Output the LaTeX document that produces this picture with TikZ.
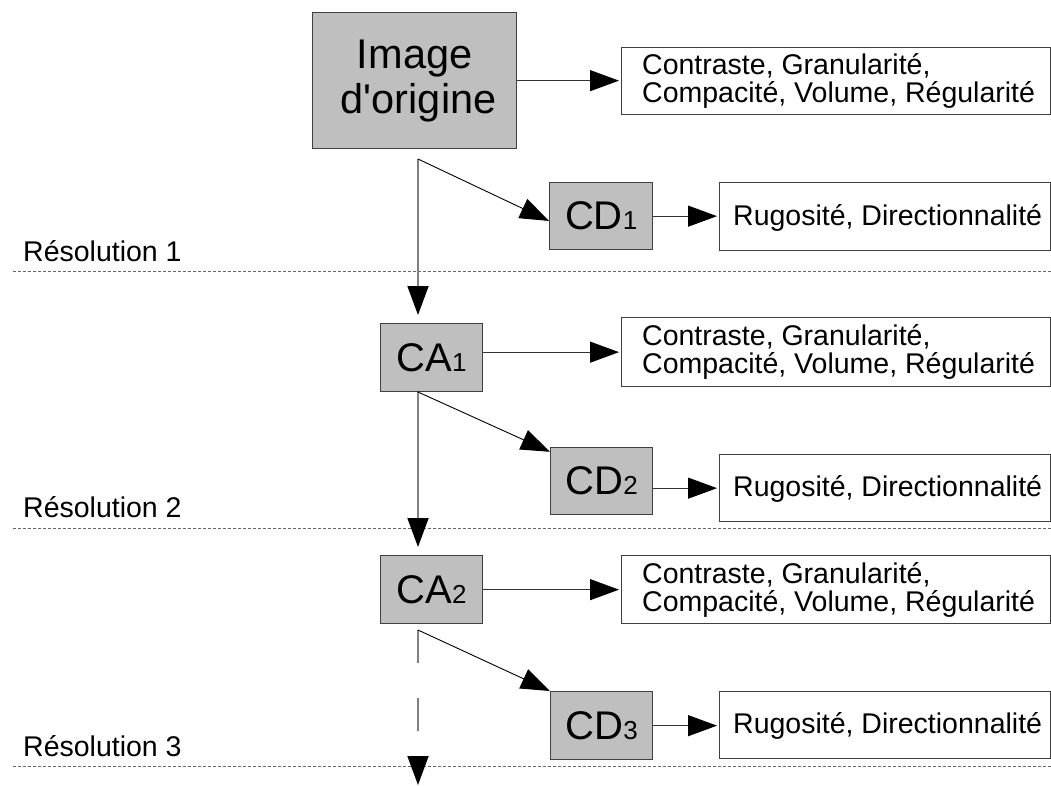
\documentclass[tikz,border=0pt]{standalone}
\usepackage{fontspec}
\setmainfont{Liberation Sans}[Ligatures=TeXOff]
\usetikzlibrary{arrows.meta,calc}
\begin{document}
\begin{tikzpicture}[x=1pt,y=-1pt,
  gbox/.style={draw=black!75, line width=1.3pt, fill=black!25, inner sep=0pt, anchor=north west},
  wbox/.style={draw=black!75, line width=1.3pt, fill=white, inner sep=0pt, anchor=north west},
  big/.style={font=\fontsize{40}{45}\selectfont},
  lbl/.style={font=\fontsize{28.5}{28}\selectfont, inner sep=0pt},
  tipstyle/.style={-{Triangle[length=29pt,width=21pt,color=black]}},
  harrow/.style={tipstyle, draw=black!80, line width=1.2pt, shorten >=2pt},
  vline/.style={tipstyle, draw=black!50, line width=1.8pt},
  dline/.style={tipstyle, draw=black, line width=0.9pt},
  sep/.style={draw=black!60, line width=1pt, dash pattern=on 3pt off 2pt},
]
\useasboundingbox (0,0) rectangle (1051,785);

% separators
\draw[sep] (13,271) -- (1051,271);
\draw[sep] (13,528) -- (1051,528);
\draw[sep] (13,766) -- (1051,766);
\node[lbl, anchor=base west] (res1) at (23,261) {Résolution 1};
\node[lbl, anchor=base west] (res2) at (23,517) {Résolution 2};
\node[lbl, anchor=base west] (res3) at (23,756) {Résolution 3};

% boxes
\node[gbox, font=\fontsize{41.5}{45}\selectfont, align=center, minimum width=204pt, minimum height=136pt] (img) at (312,12) {Image\\\hspace*{8pt}d'origine};
\node[wbox, minimum width=429pt, minimum height=67pt] (c1) at (621,47) {};
\node[lbl, anchor=west, align=left] (c1t) at ($(c1.west)+(21,0)$) {Contraste, Granularité,\\Compacité, Volume, Régularité};
\node[gbox, big, minimum width=103pt, minimum height=67pt] (cd1) at (549,182) {CD{\fontsize{26}{26}\selectfont 1}};
\node[wbox, minimum width=331pt, minimum height=68pt] (r1) at (719,182) {};
\node[lbl, anchor=base west] (r1t) at ($(r1.west)+(14,8.5)$) {Rugosité, Directionnalité};

\node[gbox, big, minimum width=102pt, minimum height=68pt] (ca1) at (380,323) {CA{\fontsize{26}{26}\selectfont 1}};
\node[wbox, minimum width=429pt, minimum height=69pt] (c2) at (621,317) {};
\node[lbl, anchor=west, align=left] (c2t) at ($(c2.west)+(21,0)$) {Contraste, Granularité,\\Compacité, Volume, Régularité};
\node[gbox, big, minimum width=102pt, minimum height=67pt] (cd2) at (550,447) {CD{\fontsize{26}{26}\selectfont 2}};
\node[wbox, minimum width=331pt, minimum height=67pt] (r2) at (719,454) {};
\node[lbl, anchor=base west] (r2t) at ($(r2.west)+(14,8.5)$) {Rugosité, Directionnalité};

\node[gbox, big, minimum width=102pt, minimum height=68pt] (ca2) at (380,555) {CA{\fontsize{26}{26}\selectfont 2}};
\node[wbox, minimum width=429pt, minimum height=68pt] (c3) at (621,555) {};
\node[lbl, anchor=west, align=left] (c3t) at ($(c3.west)+(21,0)$) {Contraste, Granularité,\\Compacité, Volume, Régularité};
\node[gbox, big, minimum width=102pt, minimum height=68pt] (cd3) at (550,691) {CD{\fontsize{26}{26}\selectfont 3}};
\node[wbox, minimum width=331pt, minimum height=67pt] (r3) at (719,691) {};
\node[lbl, anchor=base west] (r3t) at ($(r3.west)+(14,8.5)$) {Rugosité, Directionnalité};

% connectors
\coordinate (s0) at (418,159);
\draw[vline, shorten >=8pt] (s0) -- (s0 |- ca1.north);
\draw[dline] (s0) -- ($(cd1.north west)!0.57!(cd1.south west)$);
\draw[harrow] (img.east) -- (img.east -| c1.west);
\draw[harrow] (cd1.east) -- (cd1.east -| r1.west);

\coordinate (s1) at (418,392);
\draw[vline, shorten >=8pt] (s1) -- (s1 |- ca2.north);
\draw[dline] (s1) -- ($(cd2.north west)!0.07!(cd2.south west)$);
\draw[harrow] (ca1.east |- c2.west) -- (c2.west);
\draw[harrow] (cd2.east |- r2.west) -- (r2.west);

\coordinate (s2) at (418,630);
\coordinate (e2) at (418,785);
\draw[vline, dash pattern=on 33pt off 35pt] (s2) -- (e2);
\draw[dline] (s2) -- (cd3.north west);
\draw[harrow] (ca2.east) -- (ca2.east -| c3.west);
\draw[harrow] (cd3.east) -- (cd3.east -| r3.west);
\end{tikzpicture}
\end{document}
